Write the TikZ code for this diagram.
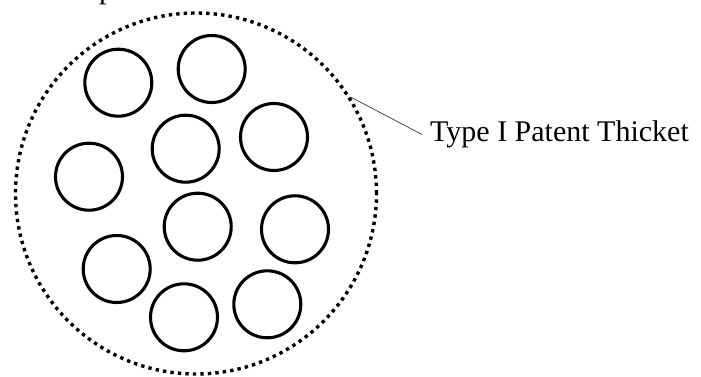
\documentclass[tikz,border=0pt]{standalone}
\usepackage{fontspec}
\setmainfont{Liberation Serif}
\begin{document}
\begin{tikzpicture}
  [x=1pt,y=-1pt,every node/.style={inner sep=0pt},
   patent/.style={circle,draw,line width=3.1pt,minimum size=67pt},
   thicket/.style={circle,draw,line width=3.4pt,dash pattern=on 3.4pt off 4.1pt,minimum size=361pt}]
  \useasboundingbox (0,0) rectangle (701,377);
  \node[anchor=base west,font=\fontsize{30}{36}\selectfont] (cut) at (99,-1.5) {p};
  \node[thicket] (th) at (196,193.5) {};
  \foreach \name/\x/\y in {p1/118.3/82.7,p2/211.7/69,p3/274/137,p4/185.7/148.7,p5/89/176.7,
                           p6/197.7/226.7,p7/295/229.3,p8/116.7/269,p9/184/317.3,p10/267.3/304.3}
    \node[patent] (\name) at (\x,\y) {};
  \node[anchor=base west,inner xsep=8pt,font=\fontsize{30}{36}\selectfont] (lbl) at (422,141.7) {Type I Patent Thicket};

  \draw[black!70,line width=0.8pt] (th.32) -- (lbl.west);
\end{tikzpicture}
\end{document}
